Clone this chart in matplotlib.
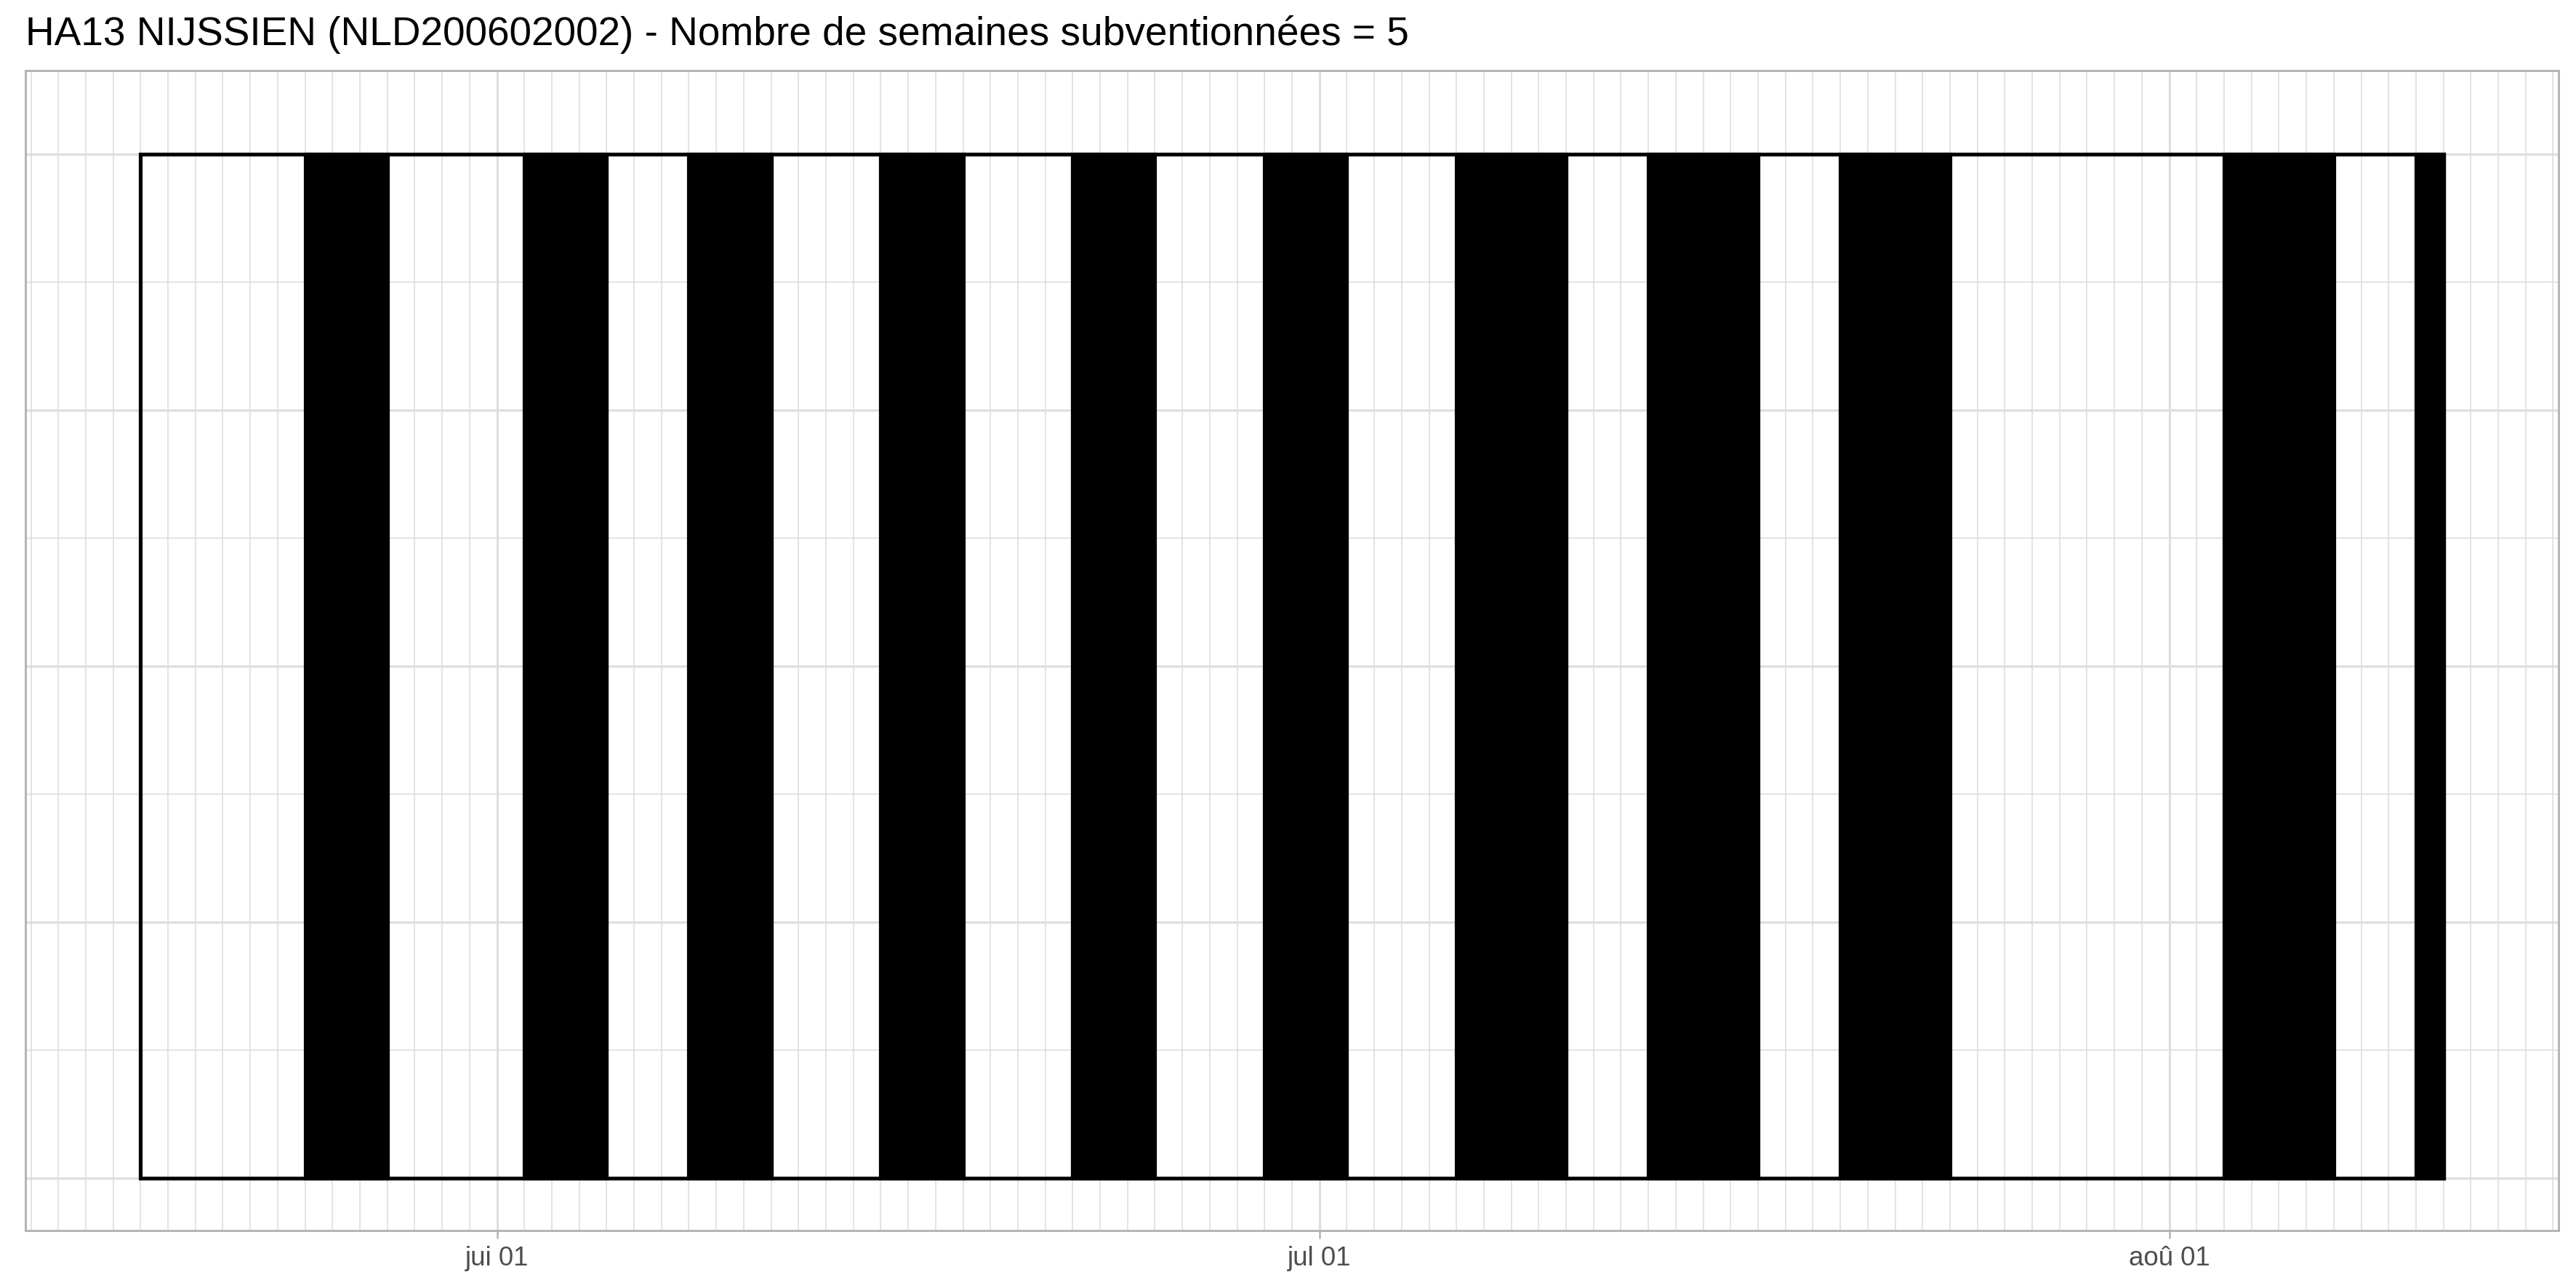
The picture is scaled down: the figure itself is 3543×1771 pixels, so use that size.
import datetime as dt
import matplotlib
matplotlib.use('Agg')
import matplotlib.pyplot as plt
import matplotlib.dates as mdates
from matplotlib.ticker import MultipleLocator, NullFormatter

plt.rcParams['font.family'] = ['Liberation Sans', 'DejaVu Sans']

# data
title = 'HA13 NIJSSIEN (NLD200602002) - Nombre de semaines subventionnées = 5'
period_start = dt.date(2023, 5, 19)
period_end = dt.date(2023, 8, 11)
black_starts = [dt.date(2023, 5, 25), dt.date(2023, 6, 2), dt.date(2023, 6, 8),
                dt.date(2023, 6, 15), dt.date(2023, 6, 22), dt.date(2023, 6, 29),
                dt.date(2023, 7, 6), dt.date(2023, 7, 13), dt.date(2023, 7, 20),
                dt.date(2023, 8, 3), dt.date(2023, 8, 10)]
black_ends = [dt.date(2023, 5, 28), dt.date(2023, 6, 5), dt.date(2023, 6, 11),
              dt.date(2023, 6, 18), dt.date(2023, 6, 25), dt.date(2023, 7, 2),
              dt.date(2023, 7, 10), dt.date(2023, 7, 17), dt.date(2023, 7, 24),
              dt.date(2023, 8, 7), dt.date(2023, 8, 11)]
tick_dates = [dt.date(2023, 6, 1), dt.date(2023, 7, 1), dt.date(2023, 8, 1)]
tick_labels = ['jui 01', 'jul 01', 'aoû 01']

W, H = 3543, 1771
fig = plt.figure(figsize=(W / 300, H / 300), dpi=300)
ax = fig.add_axes([35 / W, (H - 1692) / H, (3519 - 35) / W, (1692 - 97) / H])

x0 = mdates.date2num(period_start)
x1 = mdates.date2num(period_end)
xs = mdates.date2num(black_starts)
xe = mdates.date2num(black_ends)

# whole period outline, then the black periods
ax.bar(x0, 1, width=x1 - x0, bottom=0, align='edge', facecolor='none',
       edgecolor='black', linewidth=1.25, zorder=3)
ax.bar(xs, 1, width=xe - xs, bottom=0, align='edge', facecolor='black',
       edgecolor='black', linewidth=1.25, zorder=4)

rng = x1 - x0
ax.set_xlim(x0 - 0.05 * rng, x1 + 0.05 * rng)
ax.set_ylim(-0.0515, 1.0815)

ax.set_xticks(mdates.date2num(tick_dates))
ax.set_xticklabels(tick_labels)
ax.xaxis.set_minor_locator(mdates.DayLocator())
ax.xaxis.set_minor_formatter(NullFormatter())
ax.yaxis.set_major_locator(MultipleLocator(0.25))
ax.yaxis.set_minor_locator(MultipleLocator(0.125))
ax.yaxis.set_major_formatter(NullFormatter())

ax.set_axisbelow(True)
ax.grid(which='major', color='#DEDEDE', linewidth=0.75)
ax.grid(which='minor', color='#DEDEDE', linewidth=0.4)

ax.tick_params(axis='x', which='major', length=2.75, width=0.6, color='#B3B3B3',
               labelsize=8.8, labelcolor='#4D4D4D', pad=2.2)
ax.tick_params(axis='x', which='minor', length=0)
ax.tick_params(axis='y', which='both', length=0)

for s in ax.spines.values():
    s.set_color('#B3B3B3')
    s.set_linewidth(0.7)

fig.text(35 / W, 1 - 62 / H, title, fontsize=13.2, ha='left', va='baseline')

fig.savefig('out.png', dpi=300)
